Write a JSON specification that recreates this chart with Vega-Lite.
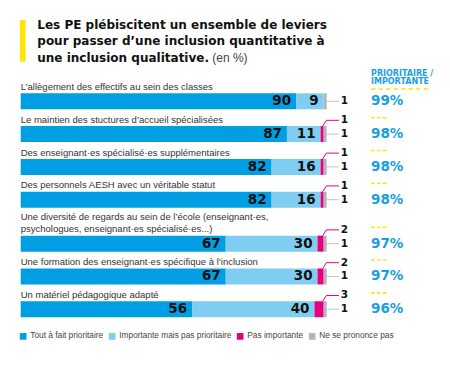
{
  "$schema": "https://vega.github.io/schema/vega-lite/v6.json",
  "width": 450,
  "height": 368,
  "autosize": {"type": "fit", "contains": "padding"},
  "padding": 0,
  "background": "white",
  "config": {"view": {"stroke": null}},
  "datasets": {
    "leviers": [
      {"rang": 1, "levier": "L’allègement des effectifs au sein des classes", "tout": 90, "imp": 9, "pas": 0, "nsp": 1, "prio": 99},
      {"rang": 2, "levier": "Le maintien des stuctures d’accueil spécialisées", "tout": 87, "imp": 11, "pas": 1, "nsp": 1, "prio": 98},
      {"rang": 3, "levier": "Des enseignant·es spécialisé·es supplémentaires", "tout": 82, "imp": 16, "pas": 1, "nsp": 1, "prio": 98},
      {"rang": 4, "levier": "Des personnels AESH avec un véritable statut", "tout": 82, "imp": 16, "pas": 1, "nsp": 1, "prio": 98},
      {"rang": 5, "levier": "Une diversité de regards au sein de l’école (enseignant·es,\npsychologues, enseignant·es spécialisé·es...)", "tout": 67, "imp": 30, "pas": 2, "nsp": 1, "prio": 97},
      {"rang": 6, "levier": "Une formation des enseignant·es spécifique à l’inclusion", "tout": 67, "imp": 30, "pas": 2, "nsp": 1, "prio": 97},
      {"rang": 7, "levier": "Un matériel pédagogique adapté", "tout": 56, "imp": 40, "pas": 3, "nsp": 1, "prio": 96}
    ]
  },
  "data": {"name": "leviers"},
  "transform": [
    {"calculate": "datum.rang - 1 + (datum.rang >= 5 ? 0.34 : 0)", "as": "pos"},
    {"calculate": "datum.tout + datum.imp + datum.pas", "as": "finPas"},
    {"calculate": "datum.tout + datum.imp + datum.pas + datum.nsp", "as": "total"}
  ],
  "layer": [
    {
      "data": {"values": [{}]},
      "mark": {"type": "rect", "color": "#ffe500"},
      "encoding": {
        "x": {"datum": -0.23, "type": "quantitative", "scale": {"domain": [-6.765, 140.29], "nice": false, "zero": false}, "axis": null},
        "x2": {"datum": 1.57},
        "y": {"datum": -2.479, "type": "quantitative", "scale": {"domain": [-3.088, 8.131], "reverse": true, "nice": false, "zero": false}, "axis": null},
        "y2": {"datum": -1.207}
      }
    },
    {
      "data": {"values": [{}]},
      "mark": {"type": "text", "text": ["Les PE plébiscitent un ensemble de leviers", "pour passer d’une inclusion quantitative à", "une inclusion qualitative."], "font": "DejaVu Sans", "fontWeight": "bold", "fontSize": 12, "lineHeight": 16.2, "align": "left", "baseline": "alphabetic", "color": "#111111"},
      "encoding": {
        "x": {"datum": 5.42, "type": "quantitative"},
        "y": {"datum": -2.195, "type": "quantitative"}
      }
    },
    {
      "data": {"values": [{}]},
      "mark": {"type": "text", "text": "(en %)", "font": "Liberation Sans", "fontSize": 12, "align": "left", "baseline": "alphabetic", "color": "#444444"},
      "encoding": {
        "x": {"datum": 62.6, "type": "quantitative"},
        "y": {"datum": -1.207, "type": "quantitative"}
      }
    },
    {
      "data": {"values": [{}]},
      "mark": {"type": "text", "text": ["PRIORITAIRE /", "IMPORTANTE"], "font": "DejaVu Sans", "fontWeight": "bold", "fontSize": 8, "lineHeight": 8.3, "align": "left", "baseline": "alphabetic", "color": "#1a9ee2"},
      "encoding": {
        "x": {"datum": 114.48, "type": "quantitative"},
        "y": {"datum": -0.781, "type": "quantitative"}
      }
    },
    {
      "data": {"values": [{}]},
      "mark": {"type": "rule", "color": "#ffe500", "strokeWidth": 1.6, "strokeDash": [4.5, 3]},
      "encoding": {
        "x": {"datum": 114.48, "type": "quantitative"},
        "x2": {"datum": 133.76},
        "y": {"datum": -0.375, "type": "quantitative"}
      }
    },
    {
      "mark": {"type": "text", "font": "Liberation Sans", "fontSize": 9.5, "lineHeight": 12.7, "lineBreak": "\n", "align": "left", "baseline": "alphabetic", "color": "#333333"},
      "transform": [{"calculate": "datum.pos - 0.347 - (length(split(datum.levier, '\\n')) - 1) * 0.387", "as": "yLab"}],
      "encoding": {
        "x": {"datum": 0, "type": "quantitative"},
        "y": {"field": "yLab", "type": "quantitative"},
        "text": {"field": "levier"}
      }
    },
    {
      "transform": [
        {"fold": ["tout", "imp", "pas", "nsp"], "as": ["cle", "valeur"]},
        {"calculate": "indexof(['tout','imp','pas','nsp'], datum.cle)", "as": "ordre"},
        {"calculate": "datum.cle == 'tout' ? 'Tout à fait prioritaire' : datum.cle == 'imp' ? 'Importante mais pas prioritaire' : datum.cle == 'pas' ? 'Pas importante' : 'Ne se prononce pas'", "as": "categorie"},
        {"stack": "valeur", "groupby": ["rang"], "sort": [{"field": "ordre"}], "as": ["x0", "x1"]},
        {"calculate": "datum.pos - 0.244", "as": "yTop"},
        {"calculate": "datum.pos + 0.244", "as": "yBot"}
      ],
      "layer": [
        {
          "mark": {"type": "rect"},
          "encoding": {
            "x": {"field": "x0", "type": "quantitative"},
            "x2": {"field": "x1"},
            "y": {"field": "yTop", "type": "quantitative"},
            "y2": {"field": "yBot"},
            "color": {
              "field": "categorie",
              "type": "nominal",
              "scale": {"domain": ["Tout à fait prioritaire", "Importante mais pas prioritaire", "Pas importante", "Ne se prononce pas"], "range": ["#009fe3", "#80cdf2", "#e6007e", "#b5b5b5"]},
              "legend": {"orient": "none", "legendX": 19, "legendY": 332, "direction": "horizontal", "title": null, "symbolType": "square", "symbolSize": 45, "symbolStrokeWidth": 0, "labelFont": "Liberation Sans", "labelFontSize": 8.3, "labelColor": "#444444", "columnPadding": 4, "labelOffset": 3}
            }
          }
        },
        {
          "transform": [{"filter": "(datum.cle == 'tout' || datum.cle == 'imp') && datum.valeur > 0"}],
          "mark": {"type": "text", "font": "DejaVu Sans", "fontWeight": "bold", "fontSize": 13.5, "align": "right", "baseline": "middle", "dx": -5, "color": "#111111"},
          "encoding": {
            "x": {"field": "x1", "type": "quantitative"},
            "y": {"field": "pos", "type": "quantitative"},
            "text": {"field": "valeur"}
          }
        }
      ]
    },
    {
      "transform": [{"calculate": "datum.total + 4", "as": "finLigne"}],
      "mark": {"type": "rule", "color": "#c4c4c4", "strokeWidth": 1},
      "encoding": {
        "x": {"field": "total", "type": "quantitative"},
        "x2": {"field": "finLigne"},
        "y": {"field": "pos", "type": "quantitative"}
      }
    },
    {
      "transform": [{"calculate": "datum.total + 5.75", "as": "xLab"}],
      "mark": {"type": "text", "font": "DejaVu Sans", "fontWeight": "bold", "fontSize": 10.5, "align": "center", "baseline": "middle", "color": "#111111"},
      "encoding": {
        "x": {"field": "xLab", "type": "quantitative"},
        "y": {"field": "pos", "type": "quantitative"},
        "text": {"field": "nsp"}
      }
    },
    {
      "transform": [
        {"filter": "datum.pas > 0"},
        {"calculate": "datum.finPas - 0.3", "as": "xa"},
        {"calculate": "datum.finPas + 0.9", "as": "xb"},
        {"calculate": "datum.pos - 0.244", "as": "ya"},
        {"calculate": "datum.pos - 0.42", "as": "yb"}
      ],
      "mark": {"type": "rule", "color": "#e6007e", "strokeWidth": 1},
      "encoding": {
        "x": {"field": "xa", "type": "quantitative"},
        "x2": {"field": "xb"},
        "y": {"field": "ya", "type": "quantitative"},
        "y2": {"field": "yb"}
      }
    },
    {
      "transform": [
        {"filter": "datum.pas > 0"},
        {"calculate": "datum.finPas + 0.9", "as": "xb"},
        {"calculate": "datum.total + 4", "as": "xc"},
        {"calculate": "datum.pos - 0.42", "as": "yb"}
      ],
      "mark": {"type": "rule", "color": "#e6007e", "strokeWidth": 1},
      "encoding": {
        "x": {"field": "xb", "type": "quantitative"},
        "x2": {"field": "xc"},
        "y": {"field": "yb", "type": "quantitative"}
      }
    },
    {
      "transform": [
        {"filter": "datum.pas > 0"},
        {"calculate": "datum.total + 5.75", "as": "xLab"},
        {"calculate": "datum.pos - 0.42", "as": "yb"}
      ],
      "mark": {"type": "text", "font": "DejaVu Sans", "fontWeight": "bold", "fontSize": 10.5, "align": "center", "baseline": "middle", "color": "#111111"},
      "encoding": {
        "x": {"field": "xLab", "type": "quantitative"},
        "y": {"field": "yb", "type": "quantitative"},
        "text": {"field": "pas"}
      }
    },
    {
      "transform": [
        {"calculate": "datum.prio + '%'", "as": "prioTxt"},
        {"calculate": "datum.total + 14.48", "as": "xPrio"}
      ],
      "mark": {"type": "text", "font": "DejaVu Sans", "fontWeight": "bold", "fontSize": 13.5, "align": "left", "baseline": "middle", "color": "#1a9ee2"},
      "encoding": {
        "x": {"field": "xPrio", "type": "quantitative"},
        "y": {"field": "pos", "type": "quantitative"},
        "text": {"field": "prioTxt"}
      }
    },
    {
      "transform": [
        {"filter": "datum.rang > 1"},
        {"calculate": "datum.total + 14.48", "as": "xd0"},
        {"calculate": "datum.total + 19.6", "as": "xd1"},
        {"calculate": "datum.pos - 0.5", "as": "yd"}
      ],
      "mark": {"type": "rule", "color": "#ffe500", "strokeWidth": 1.6, "strokeDash": [3.5, 2.5]},
      "encoding": {
        "x": {"field": "xd0", "type": "quantitative"},
        "x2": {"field": "xd1"},
        "y": {"field": "yd", "type": "quantitative"}
      }
    }
  ]
}
